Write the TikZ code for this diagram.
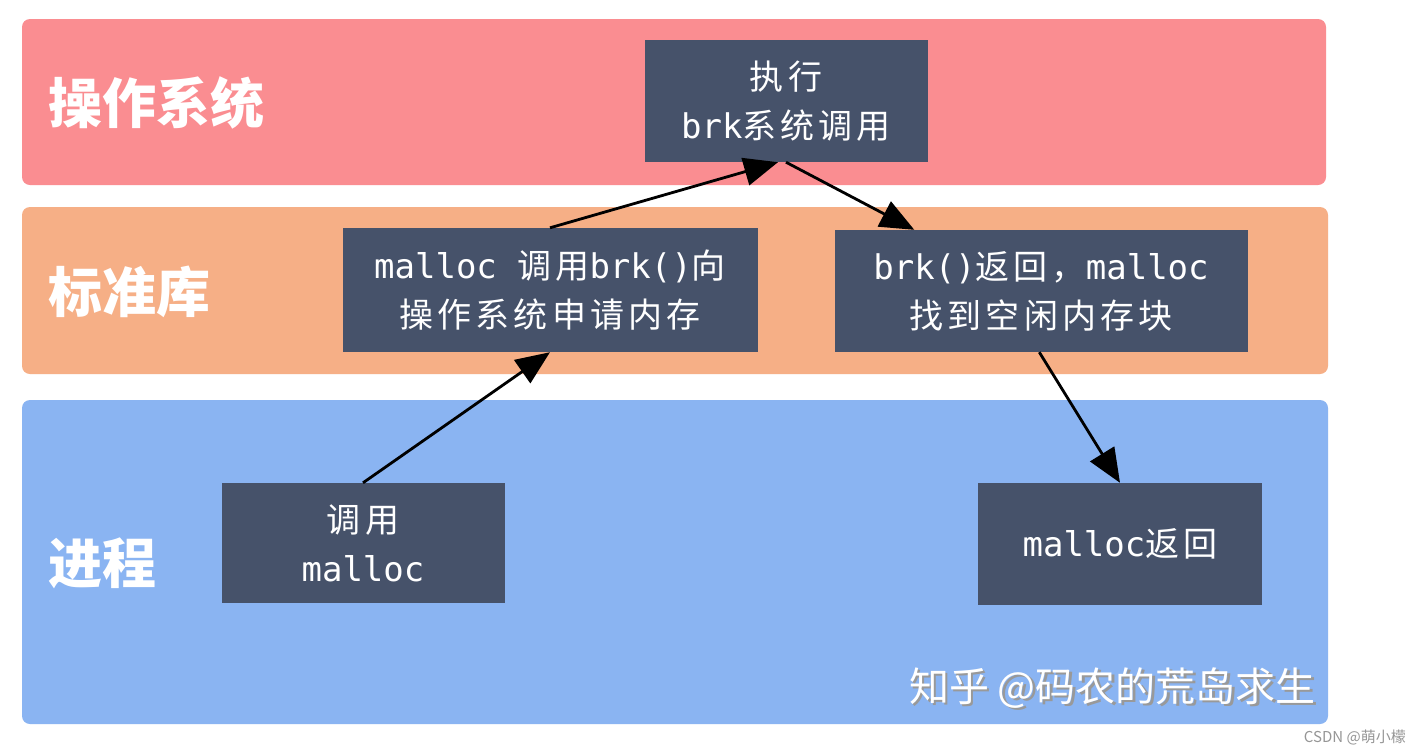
\documentclass[tikz,border=0pt]{standalone}
\usepackage{fontspec}
\usetikzlibrary{arrows.meta}
\setmainfont{Noto Sans CJK SC}
\newfontfamily\boxfont{Noto Sans CJK SC}[LetterSpace=12]
\newfontfamily\mymono{DejaVu Sans Mono}
\definecolor{bandred}{RGB}{250,141,145}
\definecolor{bandorange}{RGB}{246,175,134}
\definecolor{bandblue}{RGB}{138,180,242}
\definecolor{boxc}{RGB}{70,82,106}
\definecolor{csdn}{RGB}{150,150,150}
\begin{document}
\begin{tikzpicture}[x=1pt,y=-1pt,
  band/.style={rounded corners=8pt},
  box/.style={fill=boxc,text=white,inner sep=0pt,align=center,
    font=\boxfont\fontsize{34}{49}\selectfont},
  lab/.style={text=white,anchor=west,inner sep=0pt,
    font=\bfseries\fontsize{54}{54}\selectfont},
  arr/.style={draw=black,line width=2.8pt,-{Triangle[length=34pt,width=28pt]}}]
\useasboundingbox (0,0) rectangle (1421,753);
\fill[white] (0,0) rectangle (1421,753);
% bands
\fill[band,bandred] (22,19) rectangle (1326,185);
\fill[band,bandorange] (22,207) rectangle (1328,374);
\fill[band,bandblue] (22,400) rectangle (1328,724);
% band labels
\node[lab] (los) at (48,103) {操作系统};
\node[lab] (llib) at (48,292) {标准库};
\node[lab] (lproc) at (48,563) {进程};
% boxes
\node[box,minimum width=283pt,minimum height=122pt] (top) at (786,101)
  {执行\\{\mymono brk}系统调用};
\node[box,minimum width=415pt,minimum height=124pt] (req) at (550,290)
  {{\mymono malloc }调用{\mymono brk()}向\\操作系统申请内存};
\node[box,minimum width=413pt,minimum height=122pt] (brk) at (1041,291)
  {{\mymono brk()}返回，{\mymono malloc}\\找到空闲内存块};
\node[box,minimum width=283pt,minimum height=120pt] (call) at (363,543)
  {调用\\{\mymono malloc}};
\node[box,minimum width=284pt,minimum height=122pt] (ret) at (1120,544)
  {{\mymono malloc}返回};
% arrows
\draw[arr] (call.north) -- (req.south);
\draw[arr] (req.north) -- ([xshift=-8pt]top.south);
\draw[arr] (top.south) -- ([xshift=80pt]brk.north west);
\draw[arr] ([xshift=205pt]brk.south west) -- (ret.north);
% watermark (white text with a soft grey shadow)
\node[text=white,anchor=east,inner sep=0pt,font=\fontsize{40}{40}\selectfont]
  (wm) at (1316,689)
  {\makebox[0pt][l]{\hspace{2.5pt}\raisebox{-2.5pt}{\color{black!40}知乎 @码农的荒岛求生}}知乎 @码农的荒岛求生};
\node[text=csdn,anchor=east,inner sep=0pt,font=\fontsize{15}{15}\selectfont]
  (cs) at (1406,737) {CSDN @萌小檬};
\end{tikzpicture}
\end{document}
